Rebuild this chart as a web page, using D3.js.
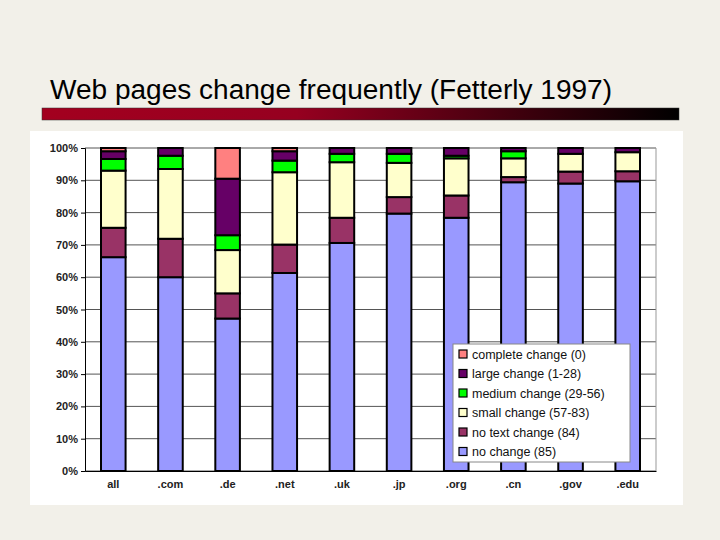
<!DOCTYPE html>
<html><head><meta charset="utf-8">
<script src="https://cdn.jsdelivr.net/npm/d3@7"></script>
<style>body{margin:0;background:#f2f0e9;}svg{display:block;font-family:Arial,"Liberation Sans",sans-serif;}</style>
</head><body>
<svg id="c" width="720" height="540"></svg>
<script>
const domains = ['all', '.com', '.de', '.net', '.uk', '.jp', '.org', '.cn', '.gov', '.edu'];
const seriesNames = ['no change (85)', 'no text change (84)', 'small change (57-83)', 'medium change (29-56)', 'large change (1-28)', 'complete change (0)'];
const seriesColors = ['#9999ff', '#993366', '#ffffcc', '#00ff00', '#660066', '#ff8080'];
// percent per segment, bottom to top
const noChange     = [66.2, 60.0, 47.2, 61.3, 70.6, 79.7, 78.4, 89.4, 89.0, 89.7];
const noTextChange = [9.1, 11.9, 7.8, 8.8, 7.8, 5.1, 6.9, 1.6, 3.7, 3.1];
const smallChange  = [17.7, 21.6, 13.4, 22.4, 17.2, 10.6, 11.5, 5.8, 5.5, 5.9];
const mediumChange = [3.6, 4.1, 4.6, 3.6, 2.6, 2.8, 0.8, 2.2, 0, 0];
const largeChange  = [2.4, 2.4, 17.5, 2.9, 1.8, 1.8, 2.4, 1.0, 1.8, 1.3];
const completeChange = [1.0, 0, 9.5, 1.0, 0, 0, 0, 0, 0, 0];
const yTicks = [0, 10, 20, 30, 40, 50, 60, 70, 80, 90, 100];

const rows = domains.map((d, i) => ({
  d, s0: noChange[i], s1: noTextChange[i], s2: smallChange[i],
  s3: mediumChange[i], s4: largeChange[i], s5: completeChange[i]
}));
const stack = d3.stack().keys(['s0', 's1', 's2', 's3', 's4', 's5'])(rows);

const svg = d3.select('#c');

// title + gradient rule
svg.append('text').attr('x', 50).attr('y', 99).attr('font-size', 27).attr('fill', '#000')
  .attr('textLength', 562).attr('lengthAdjust', 'spacingAndGlyphs')
  .text('Web pages change frequently (Fetterly 1997)');
const grad = svg.append('defs').append('linearGradient').attr('id', 'g');
grad.append('stop').attr('offset', '0').attr('stop-color', '#a3001f');
grad.append('stop').attr('offset', '0.4').attr('stop-color', '#960020');
grad.append('stop').attr('offset', '1').attr('stop-color', '#000000');
svg.append('rect').attr('x', 42).attr('y', 108).attr('width', 637).attr('height', 12)
  .attr('fill', 'url(#g)').attr('stroke', '#333').attr('stroke-width', 0.5);

// white panel
svg.append('rect').attr('x', 30).attr('y', 131).attr('width', 653).attr('height', 374).attr('fill', '#fff');

const x = d3.scaleBand().domain(domains).range([85, 656]).paddingInner(0.57).paddingOuter(0.28);
const y = d3.scaleLinear().domain([0, 100]).range([471, 148]);

// grid
svg.append('g').selectAll('line').data(yTicks).join('line')
  .attr('x1', 85).attr('x2', 656).attr('y1', d => y(d)).attr('y2', d => y(d))
  .attr('stroke', '#555').attr('stroke-width', 1);
svg.append('line').attr('x1', 656).attr('x2', 656).attr('y1', y(100)).attr('y2', y(0)).attr('stroke', '#999');

// bars
svg.append('g').selectAll('g').data(stack).join('g')
  .attr('fill', (d, i) => seriesColors[i])
  .selectAll('rect').data(d => d.filter(p => p[1] - p[0] > 0)).join('rect')
  .attr('x', p => x(p.data.d)).attr('width', x.bandwidth())
  .attr('y', p => y(p[1])).attr('height', p => y(p[0]) - y(p[1]))
  .attr('stroke', '#000').attr('stroke-width', 2);

// axes
const ya = svg.append('g').attr('transform', 'translate(85,0)')
  .call(d3.axisLeft(y).tickValues(yTicks).tickFormat(d => d + '%').tickSize(4));
ya.select('.domain').attr('stroke', '#000');
ya.selectAll('text').attr('font-size', 11).attr('font-weight', 'bold').attr('fill', '#222')
  .attr('font-family', 'Arial, sans-serif');
const xa = svg.append('g').attr('transform', `translate(0,${y(0)})`)
  .call(d3.axisBottom(x).tickSize(0).tickPadding(9));
xa.select('.domain').attr('stroke', '#000');
xa.selectAll('text').attr('font-size', 11).attr('font-weight', 'bold').attr('fill', '#222')
  .attr('font-family', 'Arial, sans-serif');

// legend
const lg = svg.append('g').attr('transform', 'translate(453,344)');
lg.append('rect').attr('width', 177).attr('height', 118).attr('fill', '#fff').attr('stroke', '#888');
const order = [5, 4, 3, 2, 1, 0];
order.forEach((si, k) => {
  const gy = 10 + k * 19.5;
  lg.append('rect').attr('x', 6).attr('y', gy - 4).attr('width', 8).attr('height', 8)
    .attr('fill', seriesColors[si]).attr('stroke', '#000').attr('stroke-width', 1.2);
  lg.append('text').attr('x', 19).attr('y', gy + 4.5).attr('font-size', 12.5).attr('fill', '#111')
    .text(seriesNames[si]);
});
</script>
</body></html>
